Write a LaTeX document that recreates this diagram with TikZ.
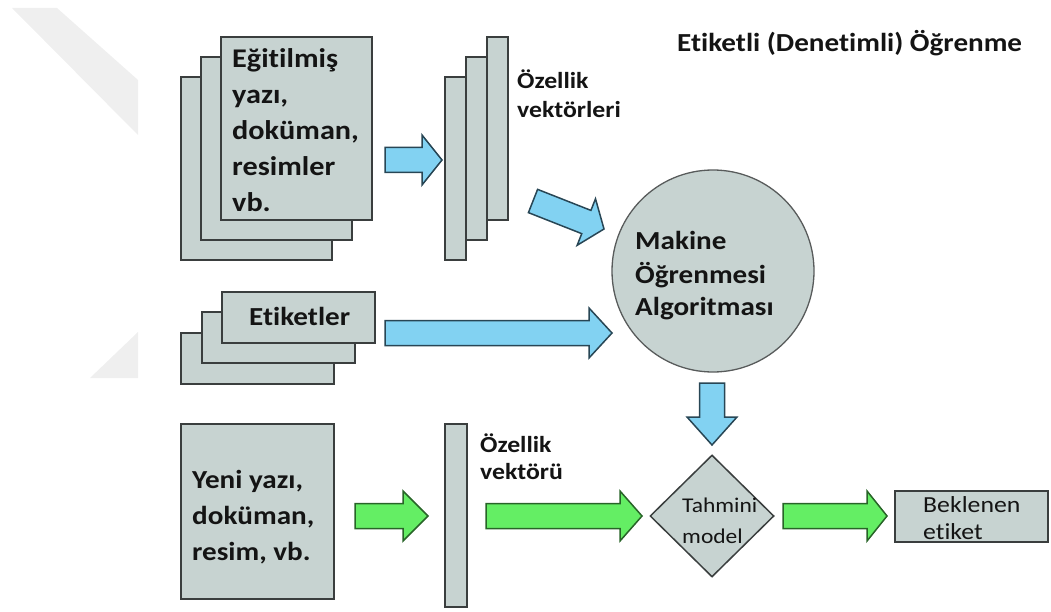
\documentclass[tikz,border=0pt]{standalone}
\usepackage{fontspec}
\setmainfont{Carlito}[FakeStretch=1.12, Ligatures=NoCommon]
\usetikzlibrary{calc,shapes.geometric}

\definecolor{boxfill}{RGB}{199,211,209}
\definecolor{boxline}{RGB}{58,62,62}
\definecolor{bluefill}{RGB}{130,210,242}
\definecolor{blueline}{RGB}{40,70,85}
\definecolor{greenfill}{RGB}{100,238,100}
\definecolor{greenline}{RGB}{40,100,40}
\definecolor{wmgray}{RGB}{239,239,239}

% left-aligned multi-line text whose baseline is the first line's baseline
\newcommand\txt[1]{\begin{tabular}[t]{@{}l@{}}#1\end{tabular}}

% block arrow from #2 to #3, head length #4
\newcommand\blockarrow[4]{%
  \draw[#1] ($(#2)!12.5pt!90:(#3)$)
    -- ($($(#3)!#4!(#2)$)!12.5pt!90:(#3)$)
    -- ($($(#3)!#4!(#2)$)!25pt!90:(#3)$)
    -- (#3)
    -- ($($(#3)!#4!(#2)$)!25pt!-90:(#3)$)
    -- ($($(#3)!#4!(#2)$)!12.5pt!-90:(#3)$)
    -- ($(#2)!12.5pt!-90:(#3)$) -- cycle;}

\tikzset{
  sheet/.style={draw=boxline, fill=boxfill, line width=1.6pt, rectangle,
    inner sep=0pt, outer sep=0pt, anchor=north west},
  bluearrow/.style={draw=blueline, fill=bluefill, line width=1.5pt, line join=miter},
  greenarrow/.style={draw=greenline, fill=greenfill, line width=1.5pt, line join=miter},
  lbl/.style={anchor=base west, inner sep=0pt, text=black!92},
  bold26/.style={lbl, font=\bfseries\fontsize{26}{33}\selectfont},
}

\begin{document}
\begin{tikzpicture}[x=1pt, y=-1pt]
  \useasboundingbox (0,0) rectangle (1051,612);

  % faint corner marks
  \fill[wmgray] (12,8) -- (57,8) -- (138,80) -- (138,135) -- cycle;
  \fill[wmgray] (90,378) -- (138,332) -- (138,378) -- cycle;

  % title
  \node[bold26] (title) at (677,52) {Etiketli (Denetimli) Öğrenme};

  % stack of training documents
  \node[sheet, minimum width=151pt, minimum height=183pt] (d3) at (181,77) {};
  \node[sheet, minimum width=151pt, minimum height=183pt] (d2) at (201,57) {};
  \node[sheet, minimum width=151pt, minimum height=183pt] (d1) at (221,37) {};
  \node[lbl, font=\bfseries\fontsize{27}{36}\selectfont] (d1txt) at (232,68)
    {\txt{Eğitilmiş\\yazı,\\doküman,\\resimler\\vb.}};

  % feature vectors
  \node[sheet, minimum width=21pt, minimum height=183pt] (v3) at (445,77) {};
  \node[sheet, minimum width=21pt, minimum height=183pt] (v2) at (466,57) {};
  \node[sheet, minimum width=21pt, minimum height=183pt] (v1) at (487,37) {};
  \node[lbl, font=\bfseries\fontsize{23}{29}\selectfont] (v1txt) at (517,89)
    {\txt{Özellik\\vektörleri}};

  % labels stack
  \node[sheet, minimum width=153pt, minimum height=51pt] (e3) at (181,333) {};
  \node[sheet, minimum width=153pt, minimum height=51pt] (e2) at (202,312) {};
  \node[sheet, minimum width=153pt, minimum height=51pt] (e1) at (222,292) {};
  \node[bold26] (e1txt) at (249,325) {Etiketler};

  % learning algorithm
  \node[circle, draw=boxline!85, fill=boxfill, line width=1.3pt, minimum size=202pt,
        inner sep=0pt] (alg) at (713,271) {};
  \node[bold26] (algtxt) at (635,250) {\txt{Makine\\Öğrenmesi\\Algoritması}};

  % new input
  \node[sheet, minimum width=153pt, minimum height=175pt] (n1) at (181,424) {};
  \node[lbl, font=\bfseries\fontsize{26}{36}\selectfont] (n1txt) at (192,488)
    {\txt{Yeni yazı,\\doküman,\\resim, vb.}};
  \node[sheet, minimum width=22pt, minimum height=183pt] (nv) at (445,424) {};
  \node[lbl, font=\bfseries\fontsize{23}{27}\selectfont] (nvtxt) at (480,452)
    {\txt{Özellik\\vektörü}};

  % predictive model
  \node[diamond, draw=boxline, fill=boxfill, line width=1.5pt, minimum width=124pt,
        minimum height=122pt, inner sep=0pt] (mdl) at (712,516) {};
  \node[lbl, font=\fontsize{21}{31}\selectfont] (mdltxt) at (682,512)
    {\txt{Tahmini\\model}};

  % expected label
  \node[sheet, minimum width=153pt, minimum height=51pt] (out) at (895,491) {};
  \node[lbl, font=\fontsize{23}{27}\selectfont] (outtxt) at (923,512)
    {\txt{Beklenen\\etiket}};

  % arrow ends
  \coordinate (a1s) at (385,160); \coordinate (a1e) at (442,160);
  \coordinate (a2s) at (533,201); \coordinate (a2e) at (604,229);
  \coordinate (a3s) at (385,333); \coordinate (a3e) at (612,333);
  \coordinate (a4s) at (712,383); \coordinate (a4e) at (712,445);
  \coordinate (g1s) at (355,516); \coordinate (g1e) at (428,516);
  \coordinate (g2s) at (486,516); \coordinate (g2e) at (642,516);
  \coordinate (g3s) at (783,516); \coordinate (g3e) at (887,516);

  \blockarrow{bluearrow}{a1s}{a1e}{20pt}
  \blockarrow{bluearrow}{a2s}{a2e}{19pt}
  \blockarrow{bluearrow}{a3s}{a3e}{23pt}
  \blockarrow{bluearrow}{a4s}{a4e}{28pt}
  \blockarrow{greenarrow}{g1s}{g1e}{25pt}
  \blockarrow{greenarrow}{g2s}{g2e}{22pt}
  \blockarrow{greenarrow}{g3s}{g3e}{20pt}
\end{tikzpicture}
\end{document}
